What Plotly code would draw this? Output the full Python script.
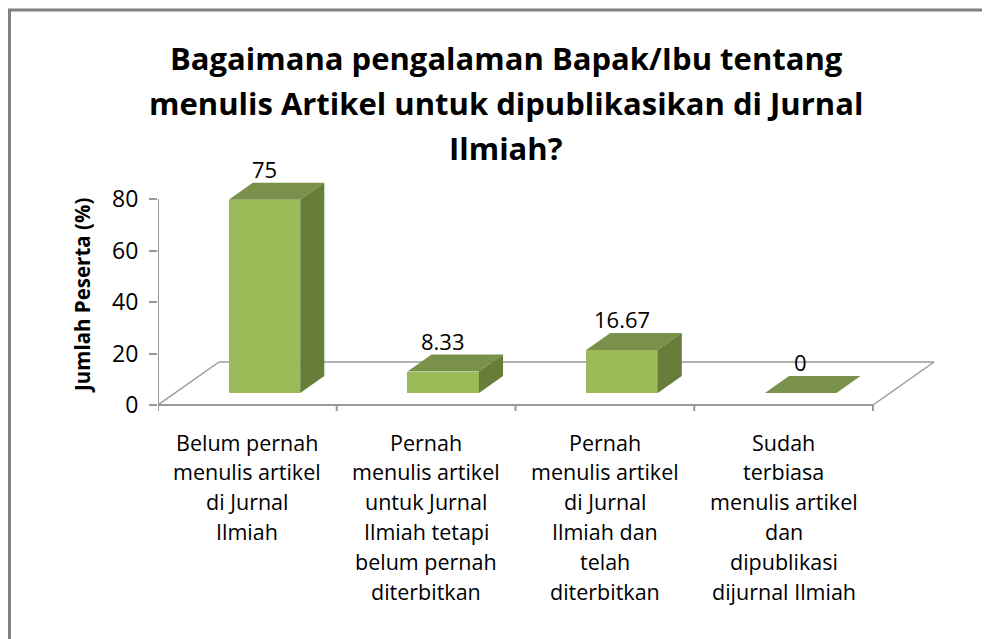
import plotly.graph_objects as go

# ---------------- data ----------------
categories = [
    ["Belum pernah", "menulis artikel", "di Jurnal", "Ilmiah"],
    ["Pernah", "menulis artikel", "untuk Jurnal", "Ilmiah tetapi", "belum pernah", "diterbitkan"],
    ["Pernah", "menulis artikel", "di Jurnal", "Ilmiah dan", "telah", "diterbitkan"],
    ["Sudah", "terbiasa", "menulis artikel", "dan", "dipublikasi", "dijurnal Ilmiah"],
]
values = [75, 8.33, 16.67, 0]
value_labels = ["75", "8.33", "16.67", "0"]
y_ticks = [0, 20, 40, 60, 80]
title_lines = [
    "Bagaimana pengalaman Bapak/Ibu tentang",
    "menulis Artikel untuk dipublikasikan di Jurnal",
    "Ilmiah?",
]
y_title = "Jumlah Peserta (%)"

# ---------------- layout geometry (reference pixels) ----------------
W, H = 990, 639
OFF = 8              # page body margin in the browser
AX_X0 = 158          # px of y-axis / category 0
AX_Y0 = 405          # px of value 0
SX = 178.75          # px per category
SY = 2.575           # px per value unit
PL, PR, PT, PB = 158, 950, 130, 425   # plot area in reference px

x_range = [(PL - AX_X0) / SX, (PR - AX_X0) / SX]
y_range = [(AX_Y0 - PB) / SY, (AX_Y0 - PT) / SY]

DXF = 61 / SX        # floor depth in category units
DYF = 43 / SY        # floor depth in value units
F1, F2 = 0.28, 0.675 # bar front/back depth fractions
BW = 0.40            # bar width (category units)

FRONT = "#9BBB59"
TOP = "#79914A"
SIDE = "#667E37"
GRID = "#999999"
FONT = "Open Sans"

n = len(values)
fig = go.Figure()

# front faces
fx = [i + 0.5 + F1 * DXF for i in range(n)]
fig.add_trace(go.Bar(
    x=fx, y=values, base=[F1 * DYF] * n, width=BW,
    marker=dict(color=FRONT, line=dict(width=0)),
    hoverinfo="skip", showlegend=False,
))

# top and side faces
ddx = (F2 - F1) * DXF
ddy = (F2 - F1) * DYF
for i, v in enumerate(values):
    xl = fx[i] - BW / 2
    xr = fx[i] + BW / 2
    yb = F1 * DYF
    yt = yb + v
    fig.add_trace(go.Scatter(
        x=[xl, xr, xr + ddx, xl + ddx, xl], y=[yt, yt, yt + ddy, yt + ddy, yt],
        fill="toself", fillcolor=TOP, mode="lines", line=dict(width=0, color=TOP),
        hoverinfo="skip", showlegend=False))
    if v > 0:
        fig.add_trace(go.Scatter(
            x=[xr, xr + ddx, xr + ddx, xr, xr], y=[yb, yb + ddy, yt + ddy, yt, yb],
            fill="toself", fillcolor=SIDE, mode="lines", line=dict(width=0, color=SIDE),
            hoverinfo="skip", showlegend=False))

shapes = []
# floor outline
floor = [((0, 0), (DXF, DYF)), ((DXF, DYF), (n + DXF, DYF)), ((n, 0), (n + DXF, DYF))]
for (x0, y0), (x1, y1) in floor:
    shapes.append(dict(type="line", xref="x", yref="y", x0=x0, y0=y0, x1=x1, y1=y1,
                       line=dict(color=GRID, width=1.5), layer="below"))
# front axis line and category ticks
shapes.append(dict(type="line", xref="x", yref="y", x0=0, y0=0, x1=n, y1=0,
                   line=dict(color=GRID, width=2), layer="below"))
for i in range(n + 1):
    shapes.append(dict(type="line", xref="x", yref="y", x0=i, y0=0, x1=i, y1=-6 / SY,
                       line=dict(color=GRID, width=2), layer="below"))
# value axis line
shapes.append(dict(type="line", xref="x", yref="y", x0=0, y0=0, x1=0, y1=max(y_ticks),
                   line=dict(color=GRID, width=2), layer="below"))

pw, ph = PR - PL, PB - PT
def px2paper(px, py):
    return (px - PL) / pw, (PB - py) / ph

# outer border (top + left visible)
bx0, by0 = px2paper(9.5, 10)
bx1, by1 = px2paper(1010, 670)
shapes.append(dict(type="rect", xref="paper", yref="paper", x0=bx0, y0=by1, x1=bx1, y1=by0,
                   line=dict(color="#808080", width=3), layer="below"))

annotations = []
# data labels
for i, v in enumerate(values):
    annotations.append(dict(x=fx[i], y=F2 * DYF + v, xref="x", yref="y",
                            text=value_labels[i], showarrow=False, yanchor="bottom",
                            yshift=-3, font=dict(family=FONT, size=22, color="#000000")))
# category labels (one annotation per line)
LINE_H = 29.8
for i, lines in enumerate(categories):
    for j, t in enumerate(lines):
        x_p, y_p = px2paper(AX_X0 + (i + 0.5) * SX, 442 + j * LINE_H)
        annotations.append(dict(x=x_p, y=y_p, xref="paper", yref="paper",
                                text=t, showarrow=False, yanchor="middle", xanchor="center",
                                font=dict(family=FONT, size=21.5, color="#000000")))
# title lines
for j, t in enumerate(title_lines):
    x_p, y_p = px2paper(506, 58 + j * 45)
    annotations.append(dict(x=x_p, y=y_p, xref="paper", yref="paper", text="<b>%s</b>" % t,
                            showarrow=False, yanchor="middle", xanchor="center",
                            font=dict(family=FONT, size=31, color="#000000")))
# y-axis title
x_p, y_p = px2paper(82, 296)
annotations.append(dict(x=x_p, y=y_p, xref="paper", yref="paper", text="<b>%s</b>" % y_title,
                        showarrow=False, textangle=-90, xanchor="center", yanchor="middle",
                        font=dict(family=FONT, size=20.5, color="#000000")))

fig.update_layout(
    width=W, height=H,
    margin=dict(l=PL - OFF, r=W - (PR - OFF), t=PT - OFF, b=H - (PB - OFF), pad=0),
    paper_bgcolor="white", plot_bgcolor="rgba(0,0,0,0)",
    showlegend=False, bargap=0,
    xaxis=dict(range=x_range, showgrid=False, zeroline=False, showticklabels=False,
               showline=False, ticks="", fixedrange=True),
    yaxis=dict(range=y_range, showgrid=False, zeroline=False, showline=False,
               tickvals=y_ticks, ticktext=[str(t) for t in y_ticks],
               ticks="outside", ticklen=8, tickwidth=2, tickcolor=GRID,
               ticklabelstandoff=6,
               tickfont=dict(family=FONT, size=23, color="#000000"), fixedrange=True),
    shapes=shapes, annotations=annotations,
)

fig.write_html("out.html")
